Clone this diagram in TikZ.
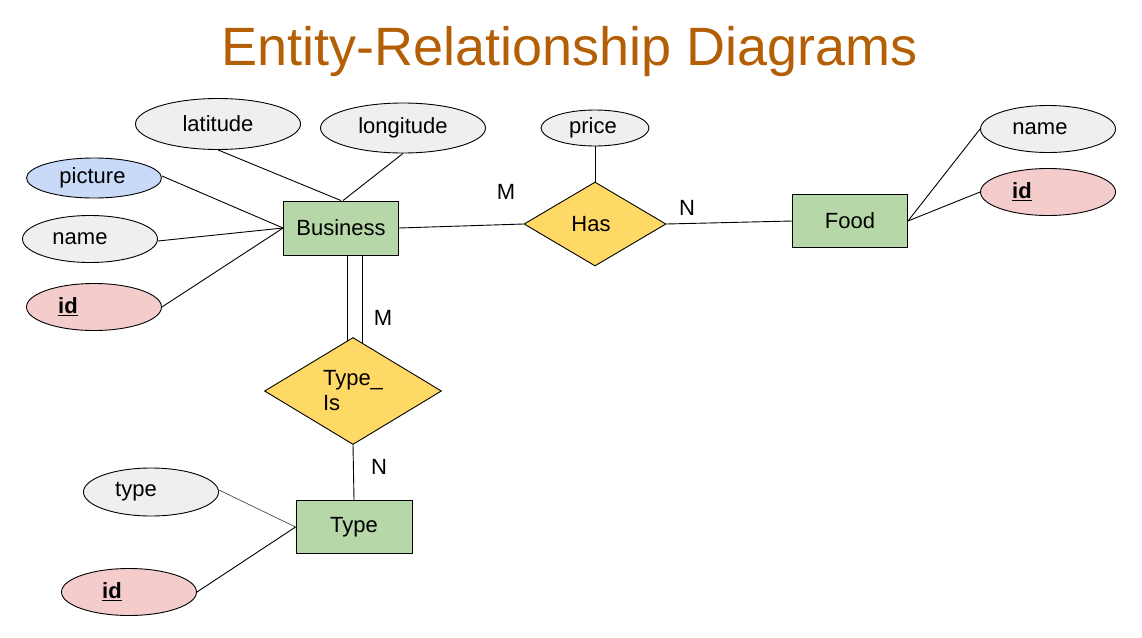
\documentclass[tikz,border=0pt]{standalone}
\usepackage{fontspec}
\setmainfont{Liberation Sans}
\usetikzlibrary{shapes.geometric,calc}
\definecolor{attrgray}{HTML}{EFEFEF}
\definecolor{keyred}{HTML}{F4CCCC}
\definecolor{picblue}{HTML}{C9DAF8}
\definecolor{entgreen}{HTML}{B6D7A8}
\definecolor{relyellow}{HTML}{FFD966}
\definecolor{titlecol}{HTML}{B45F06}
\begin{document}
\begin{tikzpicture}[x=1pt,y=-1pt,
  txt/.style={font=\fontsize{22}{26}\selectfont},
  attr/.style={ellipse,draw=black,line width=0.9pt,fill=attrgray,inner sep=0pt,txt},
  keyattr/.style={attr,fill=keyred},
  entity/.style={rectangle,draw=black,line width=0.9pt,fill=entgreen,inner sep=0pt,txt},
  rel/.style={diamond,draw=black,line width=0.9pt,fill=relyellow,inner sep=0pt,txt},
  conn/.style={line width=0.9pt,draw=black},
  card/.style={txt,inner sep=0pt}]
\useasboundingbox (0,0) rectangle (1142,637);
\node[font=\fontsize{54}{60}\selectfont,text=titlecol] (title) at (570,52) {Entity-Relationship Diagrams};
% Business
\node[entity,minimum width=115,minimum height=54] (biz) at (341,228) {Business};
\node[attr,minimum width=165,minimum height=51] (lat) at (218,124) {latitude};
\node[attr,minimum width=165,minimum height=50] (long) at (403,128) {longitude};
\node[attr,fill=picblue,minimum width=135,minimum height=40] (pic) at (94,178) {picture\kern3pt};
\node[attr,minimum width=135,minimum height=47] (bname) at (90,239) {name\kern20pt};
\node[keyattr,minimum width=135,minimum height=47] (bid) at (94,307) {\underline{\textbf{id}}\kern52pt};
% Has
\node[rel,minimum width=142,minimum height=84] (has) at (595,224) {\kern-8pt Has};
\node[attr,minimum width=108,minimum height=36] (price) at (595,128) {price\kern4pt};
% Food
\node[entity,minimum width=115,minimum height=53] (food) at (850,221) {Food};
\node[attr,minimum width=135,minimum height=47] (fname) at (1048,129) {name\kern16pt};
\node[keyattr,minimum width=135,minimum height=47] (fid) at (1048,192) {\underline{\textbf{id}}\kern52pt};
% Type_Is
\node[rel,minimum width=177,minimum height=107,align=left] (tis) at (353,391) {Type\_\\[-1pt]Is};
\node[entity,minimum width=116,minimum height=53] (typ) at (354,527) {Type};
\node[attr,minimum width=135,minimum height=48] (ttype) at (151,492) {type\kern30pt};
\node[keyattr,minimum width=135,minimum height=47] (tid) at (129,592) {\underline{\textbf{id}}\kern34pt};
% connectors
\coordinate (dl) at ($(tis.north)!0.068!(tis.west)$);
\coordinate (dr) at ($(tis.north)!0.102!(tis.east)$);
\draw[conn] (lat.south) -- (biz.north);
\draw[conn] (long.south) -- ([xshift=2]biz.north);
\draw[conn] ([yshift=2]pic.east) -- (biz.west);
\draw[conn] ([yshift=-2]bname.east) -- (biz.west);
\draw[conn] (bid.east) -- (biz.west);
\draw[conn] (biz.east) -- (has.west);
\draw[conn] (price.south) -- (has.north);
\draw[conn] (has.east) -- (food.west);
\draw[conn] (food.east) -- (fname.west);
\draw[conn] (food.east) -- (fid.west);
\draw[conn] (dl |- biz.south) -- (dl);
\draw[conn] (dr |- biz.south) -- (dr);
\draw[conn] (tis.south) -- (typ.north);
\draw[line width=0.7pt,draw=black!70] ([yshift=2]ttype.east) -- (typ.west);
\draw[conn] (tid.east) -- (typ.west);
% cardinalities
\node[card] (m1) at (506,192) {M};
\node[card] (n1) at (687,208) {N};
\node[card] (m2) at (383,318) {M};
\node[card] (n2) at (379,467) {N};
\end{tikzpicture}
\end{document}
